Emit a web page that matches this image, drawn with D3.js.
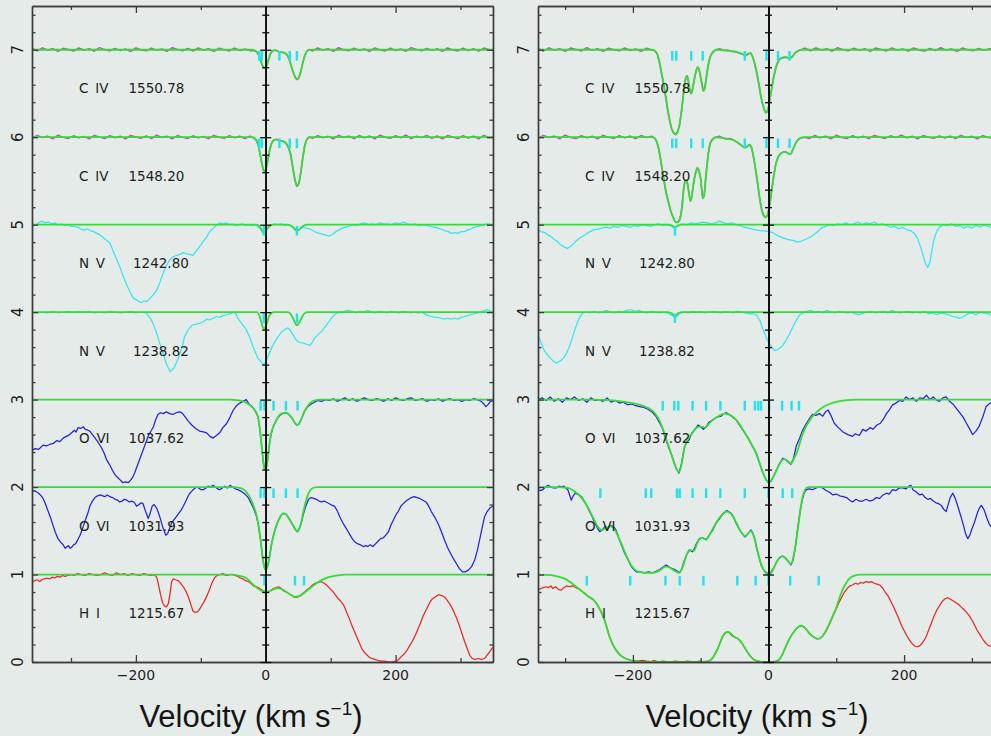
<!DOCTYPE html>
<html><head><meta charset="utf-8">
<script src="https://cdn.jsdelivr.net/npm/d3@7"></script>
<style>
html,body{margin:0;padding:0;background:#e4ebe8;}
svg{display:block;}
</style></head><body>
<svg id="chart" width="991" height="736"></svg>
<script>
// ---------------- DATA ----------------
const panelDomains = [[-360, 350], [-340, 340]];
const xTickLabels = [-200, 0, 200];
const yTickLabels = [0, 1, 2, 3, 4, 5, 6, 7];
const ionNames = ["H I", "O VI", "O VI", "N V", "N V", "C IV", "C IV"];
const wavelengths = ["1215.67", "1031.93", "1037.62", "1238.82", "1242.80", "1548.20", "1550.78"];

// ---- left panel ----
const L_CIV1550 = [[-360,1.018],[-352,0.986],[-344,1.022],[-336,0.995],[-328,1.012],[-320,0.981],[-312,1.016],[-304,1.003],[-296,0.984],[-288,1.020],[-280,0.994],[-272,1.013],[-264,0.983],[-256,1.024],[-248,1.001],[-240,0.988],[-232,1.015],[-224,0.990],[-216,1.010],[-208,0.980],[-200,1.021],[-192,0.997],[-184,0.987],[-176,1.019],[-168,0.993],[-160,1.008],[-152,0.982],[-144,1.023],[-136,1.002],[-128,0.989],[-120,1.014],[-112,0.985],[-104,1.020],[-96,0.994],[-88,1.011],[-80,0.981],[-72,1.017],[-64,1.000],[-56,0.986],[-48,1.019],[-40,0.992],[-32,1.009],[-24,0.988],
[-18,0.99],[-14,0.975],[-10,0.93],[-7,0.86],[-4,0.80],[-2,0.79],[1,0.81],[4,0.88],[7,0.95],[10,0.985],[14,0.995],[19,0.98],[24,0.97],[29,0.965],[33,0.94],[37,0.87],[41,0.77],[45,0.69],[48,0.66],[51,0.68],[54,0.75],[57,0.85],[60,0.93],[63,0.98],[67,1.004],
[72,0.985],[80,1.020],[88,0.995],[96,1.013],[104,0.982],[112,1.023],[120,1.000],[128,0.988],[136,1.017],[144,0.993],[152,1.010],[160,0.980],[168,1.021],[176,0.997],[184,0.986],[192,1.019],[200,0.991],[208,1.008],[216,0.983],[224,1.024],[232,1.002],[240,0.989],[248,1.016],[256,0.993],[264,1.012],[272,0.982],[280,1.020],[288,0.997],[296,0.986],[304,1.018],[312,0.990],[320,1.011],[328,0.984],[336,1.019],[344,1.000],[350,0.991]];
const L_CIV1550_fit = [[-360,1],[-22,1],[-18,0.995],[-14,0.975],[-10,0.93],[-7,0.86],[-4,0.805],[-2,0.79],[1,0.81],[4,0.88],[7,0.95],[10,0.985],[14,0.995],[19,0.982],[24,0.972],[29,0.965],[33,0.94],[37,0.87],[41,0.77],[45,0.69],[48,0.66],[51,0.68],[54,0.75],[57,0.85],[60,0.93],[63,0.98],[67,0.998],[72,1],[350,1]];

const L_CIV1548 = [[-360,0.988],[-352,1.019],[-344,0.996],[-336,1.011],[-328,0.981],[-320,1.023],[-312,0.998],[-304,0.986],[-296,1.016],[-288,0.992],[-280,1.009],[-272,0.982],[-264,1.021],[-256,1.001],[-248,0.985],[-240,1.018],[-232,0.994],[-224,1.012],[-216,0.980],[-208,1.020],[-200,1.003],[-192,0.987],[-184,1.015],[-176,0.983],[-168,1.024],[-160,0.996],[-152,1.010],[-144,0.981],[-136,1.019],[-128,0.998],[-120,0.986],[-112,1.016],[-104,0.992],[-96,1.008],[-88,0.983],[-80,1.021],[-72,1.000],[-64,0.987],[-56,1.018],[-48,0.994],[-40,1.011],[-32,0.984],[-24,1.013],
[-18,0.99],[-15,0.97],[-12,0.92],[-9,0.82],[-6,0.70],[-4,0.63],[-2,0.61],[0,0.63],[3,0.73],[6,0.85],[9,0.93],[12,0.965],[16,0.975],[21,0.965],[26,0.955],[30,0.94],[34,0.90],[38,0.81],[42,0.64],[45,0.51],[48,0.44],[51,0.47],[54,0.60],[57,0.76],[60,0.90],[63,0.97],[67,1.005],
[72,0.986],[80,1.018],[88,0.994],[96,1.010],[104,0.981],[112,1.022],[120,0.997],[128,1.011],[136,0.985],[144,1.019],[152,0.992],[160,1.013],[168,0.982],[176,1.023],[184,1.000],[192,0.987],[200,1.017],[208,0.993],[216,1.025],[224,0.983],[232,1.010],[240,0.995],[248,1.020],[256,0.986],[264,1.014],[272,0.981],[280,1.019],[288,1.002],[296,0.985],[304,1.018],[312,0.989],[320,1.012],[328,0.982],[336,1.020],[344,0.995],[350,1.008]];
const L_CIV1548_fit = [[-360,1],[-22,1],[-18,0.995],[-15,0.97],[-12,0.92],[-9,0.82],[-6,0.70],[-4,0.635],[-2,0.61],[0,0.63],[3,0.73],[6,0.85],[9,0.93],[12,0.965],[16,0.975],[21,0.965],[26,0.955],[30,0.94],[34,0.90],[38,0.81],[42,0.64],[45,0.51],[48,0.44],[51,0.47],[54,0.60],[57,0.76],[60,0.90],[63,0.97],[67,0.997],[72,1],[350,1]];

const L_NV1242 = [[-360,1.00],[-355,0.99],[-350,1.02],[-345,1.04],[-340,1.02],[-335,1.03],[-330,1.01],[-325,1.02],[-320,1.00],[-315,1.01],[-310,0.99],[-305,1.00],[-300,0.98],[-295,0.98],[-290,0.97],[-285,0.95],[-280,0.94],[-275,0.95],[-270,0.93],[-265,0.92],[-260,0.90],[-255,0.88],[-250,0.85],[-245,0.82],[-240,0.79],[-235,0.70],[-230,0.61],[-225,0.52],[-220,0.42],[-214,0.31],[-209,0.23],[-204,0.16],[-199,0.14],[-195,0.12],[-191,0.11],[-187,0.13],[-183,0.12],[-178,0.16],[-173,0.20],[-168,0.25],[-163,0.34],[-158,0.45],[-153,0.53],[-148,0.60],[-143,0.63],[-137,0.65],[-132,0.66],[-127,0.68],[-122,0.67],[-117,0.66],[-112,0.65],[-107,0.70],[-102,0.75],[-97,0.80],[-91,0.86],[-87,0.91],[-84,0.94],[-79,0.97],[-75,1.00],[-71,1.02],[-66,1.01],[-61,1.02],[-56,1.00],[-51,1.01],[-46,0.99],[-41,1.00],[-36,1.01],[-31,0.99],[-26,1.00],[-21,0.99],[-16,1.00],[-12,0.98],[-8,0.95],[-5,0.92],[-3,0.91],[-1,0.92],[2,0.95],[6,0.98],[10,1.00],[14,1.01],[19,1.00],[24,1.01],[29,0.99],[34,1.00],[39,0.99],[43,0.97],[48,0.94],[53,0.95],[58,0.97],[63,0.96],[68,0.95],[73,0.93],[78,0.91],[83,0.90],[88,0.89],[93,0.88],[98,0.87],[103,0.89],[108,0.92],[113,0.94],[118,0.96],[123,0.97],[128,0.98],[134,1.00],[140,0.99],[146,1.01],[152,1.02],[158,1.00],[164,1.01],[170,1.00],[176,1.02],[182,1.01],[188,1.01],[194,1.00],[200,1.02],[206,1.01],[212,1.03],[218,1.01],[224,1.00],[230,1.01],[236,0.99],[242,1.00],[248,0.99],[254,0.98],[260,0.97],[265,0.96],[270,0.95],[276,0.93],[281,0.92],[286,0.90],[291,0.91],[296,0.90],[301,0.92],[306,0.92],[311,0.94],[316,0.95],[321,0.97],[326,0.98],[331,0.99],[336,1.00],[342,1.01],[346,1.00],[350,1.00]];
const L_NV1242_fit = [[-360,1],[-14,1],[-10,0.985],[-7,0.95],[-5,0.92],[-3,0.905],[-1,0.915],[2,0.95],[5,0.98],[9,0.998],[13,1],[34,1],[38,0.99],[42,0.97],[45,0.945],[48,0.93],[51,0.94],[55,0.97],[59,0.99],[64,1],[350,1]];

const L_NV1238 = [[-360,1.00],[-352,0.99],[-344,1.00],[-336,0.99],[-328,1.01],[-320,0.99],[-312,1.00],[-304,1.01],[-296,1.00],[-288,1.01],[-280,1.00],[-272,1.01],[-264,0.99],[-256,1.00],[-248,0.99],[-240,1.01],[-232,1.00],[-224,0.99],[-216,1.00],[-208,1.01],[-200,0.99],[-192,1.00],[-184,0.99],[-176,0.91],[-172,0.84],[-168,0.76],[-164,0.66],[-160,0.57],[-156,0.48],[-153,0.41],[-150,0.36],[-147,0.32],[-144,0.34],[-140,0.38],[-136,0.45],[-132,0.53],[-128,0.63],[-125,0.72],[-120,0.79],[-114,0.85],[-108,0.86],[-102,0.87],[-96,0.89],[-91,0.92],[-86,0.91],[-81,0.93],[-76,0.95],[-71,0.94],[-66,0.96],[-60,0.97],[-55,0.98],[-50,1.00],[-46,0.98],[-43,0.93],[-38,0.88],[-34,0.84],[-30,0.80],[-25,0.72],[-20,0.61],[-16,0.54],[-12,0.47],[-9,0.45],[-6,0.42],[-4,0.40],[-1,0.42],[1,0.45],[5,0.52],[9,0.59],[14,0.66],[19,0.72],[24,0.77],[29,0.80],[34,0.82],[38,0.79],[42,0.74],[46,0.69],[50,0.66],[55,0.65],[60,0.64],[64,0.63],[68,0.62],[72,0.66],[75,0.70],[80,0.74],[86,0.78],[90,0.82],[93,0.85],[97,0.89],[101,0.93],[106,0.97],[111,0.995],[116,1.00],[121,1.01],[127,1.02],[133,1.01],[139,0.99],[145,1.01],[151,1.00],[157,1.02],[163,1.00],[169,0.99],[175,1.01],[181,1.00],[187,0.99],[193,1.01],[199,1.00],[205,0.99],[211,1.01],[217,1.00],[223,0.99],[229,1.00],[235,0.99],[240,1.00],[245,0.98],[250,0.96],[255,0.95],[260,0.94],[265,0.94],[270,0.93],[275,0.92],[280,0.93],[286,0.92],[291,0.93],[296,0.92],[301,0.94],[306,0.95],[311,0.96],[316,0.97],[321,0.98],[326,0.99],[332,1.00],[337,1.02],[342,1.03],[346,1.01],[350,1.00]];
const L_NV1238_fit = [[-360,1],[-14,1],[-11,0.98],[-8,0.92],[-5,0.84],[-3,0.81],[-1,0.82],[2,0.88],[5,0.95],[9,0.99],[13,1],[34,1],[38,0.98],[42,0.93],[45,0.88],[48,0.85],[51,0.87],[55,0.93],[59,0.98],[64,1],[350,1]];

const L_OVI1037 = [[-360,0.42],[-355,0.44],[-350,0.43],[-343,0.48],[-338,0.47],[-332,0.49],[-327,0.50],[-322,0.53],[-317,0.52],[-312,0.56],[-307,0.58],[-302,0.60],[-299,0.62],[-295,0.65],[-292,0.63],[-289,0.68],[-285,0.67],[-281,0.69],[-278,0.66],[-274,0.65],[-271,0.64],[-266,0.59],[-262,0.55],[-258,0.51],[-253,0.45],[-249,0.39],[-245,0.31],[-240,0.25],[-236,0.19],[-232,0.14],[-228,0.11],[-224,0.08],[-220,0.05],[-216,0.06],[-212,0.05],[-209,0.07],[-205,0.11],[-202,0.16],[-199,0.22],[-194,0.32],[-189,0.42],[-184,0.52],[-180,0.60],[-176,0.65],[-173,0.69],[-170,0.76],[-166,0.83],[-162,0.85],[-158,0.84],[-153,0.86],[-148,0.84],[-143,0.83],[-138,0.85],[-132,0.86],[-128,0.84],[-125,0.81],[-120,0.76],[-114,0.71],[-108,0.67],[-102,0.64],[-96,0.63],[-91,0.62],[-86,0.58],[-81,0.56],[-76,0.59],[-71,0.62],[-66,0.68],[-60,0.73],[-55,0.80],[-50,0.88],[-45,0.93],[-40,0.96],[-35,0.98],[-30,1.00],[-25,0.94],[-20,0.91],[-17,0.88],[-12,0.81],[-9,0.66],[-6,0.45],[-4,0.30],[-2,0.21],[0,0.20],[2,0.26],[5,0.45],[8,0.60],[11,0.68],[14,0.73],[18,0.79],[22,0.82],[26,0.84],[30,0.85],[34,0.84],[38,0.81],[42,0.77],[45,0.73],[48,0.71],[51,0.72],[55,0.78],[60,0.87],[65,0.92],[70,0.95],[75,0.97],[80,0.99],[86,0.98],[92,1.00],[98,0.99],[104,1.01],[110,0.98],[116,1.00],[122,1.02],[128,0.99],[134,1.01],[140,0.98],[146,1.00],[152,1.02],[158,1.00],[164,0.99],[170,1.01],[176,1.00],[182,0.98],[188,1.01],[194,0.99],[200,1.02],[206,1.00],[212,0.99],[218,1.01],[224,1.02],[230,0.99],[236,1.00],[242,1.01],[248,0.98],[254,1.00],[260,0.99],[266,1.01],[272,0.98],[278,1.00],[284,1.01],[290,0.99],[296,1.00],[302,0.98],[308,1.00],[314,0.99],[320,1.01],[326,1.00],[332,0.98],[336,0.95],[339,0.92],[342,0.94],[346,0.98],[350,0.99]];
const L_OVI1037_fit = [[-360,1],[-55,1],[-45,0.995],[-35,0.98],[-25,0.94],[-17,0.88],[-12,0.80],[-9,0.66],[-6,0.45],[-4,0.30],[-2,0.21],[0,0.20],[2,0.26],[5,0.45],[8,0.60],[11,0.68],[14,0.73],[18,0.79],[22,0.83],[26,0.845],[30,0.85],[34,0.84],[38,0.81],[42,0.77],[45,0.73],[48,0.71],[51,0.72],[55,0.78],[60,0.87],[65,0.93],[70,0.97],[76,0.99],[82,1],[350,1]];

const L_OVI1031 = [[-360,0.94],[-357,0.96],[-354,0.95],[-350,0.93],[-347,0.91],[-343,0.87],[-340,0.82],[-336,0.74],[-332,0.66],[-328,0.57],[-324,0.48],[-320,0.41],[-316,0.37],[-312,0.34],[-309,0.30],[-306,0.32],[-304,0.33],[-301,0.30],[-299,0.31],[-296,0.34],[-293,0.35],[-290,0.39],[-286,0.45],[-282,0.53],[-278,0.62],[-274,0.70],[-271,0.78],[-267,0.84],[-263,0.88],[-259,0.90],[-255,0.91],[-251,0.90],[-248,0.89],[-244,0.91],[-240,0.89],[-236,0.88],[-232,0.86],[-228,0.85],[-225,0.83],[-221,0.84],[-218,0.86],[-214,0.85],[-210,0.83],[-206,0.84],[-202,0.82],[-199,0.78],[-195,0.80],[-192,0.82],[-189,0.81],[-185,0.72],[-181,0.64],[-178,0.70],[-175,0.78],[-172,0.80],[-168,0.76],[-165,0.70],[-162,0.63],[-159,0.55],[-156,0.49],[-154,0.45],[-151,0.47],[-148,0.53],[-145,0.59],[-142,0.62],[-138,0.66],[-134,0.70],[-130,0.74],[-127,0.78],[-123,0.84],[-120,0.89],[-117,0.93],[-113,0.96],[-110,0.98],[-107,1.00],[-103,0.99],[-100,0.97],[-96,0.97],[-92,0.99],[-89,1.01],[-85,1.00],[-81,1.02],[-78,1.00],[-74,0.98],[-71,0.97],[-67,0.99],[-63,1.01],[-59,0.99],[-55,1.02],[-51,1.00],[-47,0.98],[-43,0.97],[-40,0.96],[-36,0.94],[-32,0.92],[-27,0.88],[-23,0.82],[-19,0.76],[-14,0.66],[-11,0.55],[-8,0.40],[-6,0.27],[-4,0.15],[-2,0.08],[0,0.05],[3,0.10],[6,0.21],[9,0.35],[12,0.45],[15,0.53],[19,0.61],[23,0.67],[27,0.70],[31,0.69],[35,0.65],[39,0.60],[43,0.55],[46,0.51],[49,0.49],[52,0.53],[55,0.60],[58,0.69],[62,0.79],[66,0.86],[70,0.88],[74,0.87],[78,0.86],[82,0.84],[86,0.83],[90,0.84],[95,0.82],[100,0.80],[106,0.78],[110,0.73],[114,0.66],[118,0.60],[122,0.55],[126,0.50],[130,0.45],[134,0.40],[138,0.37],[142,0.35],[146,0.34],[150,0.32],[154,0.33],[157,0.32],[161,0.34],[165,0.32],[169,0.35],[173,0.38],[177,0.41],[181,0.42],[185,0.45],[189,0.49],[193,0.57],[197,0.63],[201,0.69],[204,0.72],[208,0.78],[212,0.81],[216,0.84],[220,0.86],[224,0.88],[229,0.89],[233,0.88],[237,0.87],[242,0.85],[247,0.83],[251,0.78],[255,0.72],[260,0.66],[265,0.59],[270,0.50],[275,0.40],[280,0.31],[286,0.22],[290,0.17],[294,0.12],[298,0.07],[303,0.03],[307,0.03],[312,0.05],[317,0.09],[322,0.17],[326,0.28],[330,0.42],[334,0.56],[337,0.66],[341,0.72],[345,0.76],[350,0.78]];
const L_OVI1031_fit = [[-360,1],[-50,1],[-40,0.99],[-32,0.96],[-25,0.89],[-19,0.79],[-14,0.67],[-11,0.55],[-8,0.40],[-6,0.27],[-4,0.15],[-2,0.08],[0,0.05],[3,0.10],[6,0.21],[9,0.35],[12,0.45],[15,0.53],[19,0.61],[23,0.67],[27,0.70],[31,0.69],[35,0.65],[39,0.60],[43,0.55],[46,0.51],[49,0.49],[52,0.53],[55,0.61],[58,0.72],[62,0.84],[66,0.93],[70,0.975],[75,0.995],[80,1],[350,1]];

const L_HI = [[-360,0.91],[-356,0.93],[-352,0.94],[-348,0.92],[-345,0.94],[-341,0.95],[-337,0.96],[-333,0.95],[-329,0.97],[-325,0.96],[-321,0.98],[-317,0.97],[-313,0.99],[-309,0.98],[-305,0.99],[-300,1.00],[-295,0.99],[-290,1.01],[-284,1.00],[-278,0.99],[-272,1.01],[-266,1.00],[-260,0.99],[-254,1.00],[-248,1.02],[-242,1.00],[-236,0.99],[-230,1.02],[-224,1.00],[-218,1.01],[-212,0.99],[-206,1.01],[-200,1.00],[-194,0.99],[-188,1.01],[-182,1.00],[-177,0.99],[-172,1.00],[-168,0.97],[-165,0.88],[-162,0.77],[-159,0.68],[-156,0.64],[-153,0.63],[-150,0.67],[-147,0.80],[-145,0.92],[-142,0.95],[-139,0.94],[-135,0.93],[-131,0.90],[-127,0.86],[-123,0.81],[-119,0.74],[-115,0.65],[-112,0.58],[-109,0.57],[-106,0.57],[-103,0.59],[-99,0.64],[-95,0.69],[-91,0.75],[-87,0.82],[-83,0.90],[-79,0.96],[-75,0.99],[-71,1.00],[-66,1.01],[-61,0.99],[-56,1.00],[-51,1.00],[-47,0.99],[-43,0.98],[-39,0.96],[-35,0.95],[-31,0.93],[-27,0.92],[-23,0.90],[-19,0.87],[-15,0.86],[-11,0.85],[-7,0.83],[-3,0.81],[0,0.80],[4,0.80],[8,0.82],[12,0.84],[16,0.85],[20,0.86],[24,0.84],[28,0.81],[32,0.80],[36,0.78],[40,0.76],[44,0.74],[48,0.74],[52,0.75],[56,0.78],[60,0.80],[64,0.83],[68,0.85],[72,0.88],[76,0.90],[80,0.91],[85,0.92],[90,0.90],[95,0.87],[100,0.83],[104,0.80],[108,0.76],[112,0.72],[116,0.69],[120,0.65],[124,0.58],[128,0.51],[132,0.43],[136,0.36],[140,0.29],[144,0.22],[148,0.15],[152,0.11],[156,0.08],[160,0.05],[164,0.04],[168,0.03],[172,0.02],[177,0.01],[182,0.01],[187,0.005],[192,0.0],[197,0.005],[202,0.01],[206,0.04],[210,0.07],[214,0.10],[218,0.14],[222,0.19],[226,0.24],[230,0.30],[234,0.37],[238,0.44],[242,0.52],[246,0.58],[250,0.64],[254,0.70],[258,0.73],[262,0.75],[266,0.77],[270,0.76],[274,0.75],[278,0.72],[282,0.68],[286,0.63],[290,0.57],[294,0.50],[298,0.42],[302,0.33],[306,0.24],[310,0.16],[314,0.08],[318,0.04],[322,0.03],[327,0.04],[332,0.03],[337,0.04],[341,0.08],[345,0.12],[350,0.17]];
const L_HI_fit = [[-360,1],[-52,1],[-40,0.985],[-30,0.96],[-20,0.89],[-10,0.83],[0,0.80],[6,0.81],[12,0.83],[18,0.845],[24,0.835],[30,0.81],[37,0.775],[45,0.745],[52,0.755],[60,0.795],[70,0.855],[80,0.91],[90,0.95],[100,0.975],[110,0.99],[122,1],[350,1]];

const L_CIV_ticks = [-10, -6, 21, 37, 48];
const L_NV_ticks = [-3, 48];
const L_OVI_ticks = [-8, -2, 12, 31, 49];
const L_HI_ticks = [-2, 45, 59];

// ---- right panel ----
const R_CIV1550 = [[-340,1.015],[-332,0.985],[-324,1.022],[-316,0.994],[-308,1.013],[-300,0.981],[-292,1.019],[-284,1.002],[-276,0.986],[-268,1.024],[-260,0.993],[-252,1.011],[-244,0.982],[-236,1.017],[-228,1.000],[-220,0.988],[-212,1.020],[-204,0.991],[-196,1.008],[-188,0.983],[-180,1.016],[-172,0.997],
[-168,0.99],[-164,0.95],[-161,0.86],[-158,0.74],[-155,0.62],[-152,0.48],[-149,0.33],[-146,0.20],[-143,0.10],[-140,0.05],[-137,0.03],[-134,0.06],[-131,0.15],[-128,0.32],[-125,0.52],[-122,0.68],[-120,0.70],[-118,0.63],[-116,0.54],[-114,0.50],[-112,0.55],[-109,0.68],[-106,0.78],[-104,0.80],[-102,0.76],[-99,0.64],[-96,0.53],[-94,0.56],[-91,0.72],[-88,0.86],[-85,0.94],[-81,0.98],[-77,1.00],[-72,1.012],[-66,0.99],[-60,0.995],[-54,0.98],[-48,0.975],[-43,0.96],[-38,0.95],[-35,0.935],[-31,0.945],[-27,0.965],[-24,0.93],[-21,0.86],[-18,0.76],[-15,0.64],[-12,0.50],[-9,0.39],[-6,0.31],[-4,0.28],[-2,0.29],[0,0.34],[2,0.43],[5,0.57],[8,0.70],[11,0.80],[14,0.86],[17,0.895],[21,0.91],[25,0.915],[28,0.91],[31,0.90],[35,0.92],[39,0.96],[43,0.985],[48,1.0],
[54,1.018],[62,0.988],[70,1.021],[78,0.995],[86,1.012],[94,0.983],[102,1.023],[110,1.001],[118,0.987],[126,1.017],[134,0.993],[142,1.012],[150,0.981],[158,1.019],[166,1.003],[174,0.986],[182,1.021],[190,0.994],[198,1.010],[206,0.984],[214,1.020],[222,0.998],[230,0.985],[238,1.016],[246,0.991],[254,1.023],[262,0.996],[270,1.009],[278,0.982],[286,1.019],[294,1.000],[302,0.987],[310,1.015],[318,0.993],[326,1.012],[334,0.984],[340,1.008]];
const R_CIV1550_fit = [[-340,1],[-172,1],[-168,0.99],[-164,0.95],[-161,0.86],[-158,0.74],[-155,0.62],[-152,0.48],[-149,0.33],[-146,0.20],[-143,0.10],[-140,0.05],[-137,0.03],[-134,0.06],[-131,0.15],[-128,0.32],[-125,0.52],[-122,0.68],[-120,0.70],[-118,0.63],[-116,0.54],[-114,0.50],[-112,0.55],[-109,0.68],[-106,0.78],[-104,0.80],[-102,0.76],[-99,0.64],[-96,0.53],[-94,0.56],[-91,0.72],[-88,0.86],[-85,0.94],[-81,0.98],[-77,1.0],[-70,1.0],[-60,0.99],[-50,0.98],[-43,0.965],[-38,0.95],[-35,0.94],[-31,0.945],[-27,0.963],[-24,0.93],[-21,0.86],[-18,0.76],[-15,0.64],[-12,0.50],[-9,0.39],[-6,0.31],[-4,0.28],[-2,0.29],[0,0.34],[2,0.43],[5,0.57],[8,0.70],[11,0.80],[14,0.86],[17,0.895],[21,0.91],[25,0.915],[28,0.91],[31,0.90],[35,0.92],[39,0.96],[43,0.985],[48,0.998],[54,1],[340,1]];

const R_CIV1548 = [[-340,0.987],[-332,1.020],[-324,0.997],[-316,1.012],[-308,0.982],[-300,1.024],[-292,0.996],[-284,0.985],[-276,1.017],[-268,0.993],[-260,1.011],[-252,0.981],[-244,1.021],[-236,1.001],[-228,0.986],[-220,1.018],[-212,0.992],[-204,1.013],[-196,0.983],[-188,1.019],[-180,0.997],[-172,1.010],
[-168,0.99],[-165,0.95],[-162,0.87],[-159,0.74],[-156,0.59],[-153,0.45],[-150,0.33],[-147,0.24],[-144,0.15],[-141,0.09],[-138,0.04],[-135,0.025],[-132,0.04],[-129,0.12],[-127,0.25],[-125,0.42],[-123,0.50],[-121,0.51],[-119,0.45],[-117,0.34],[-115,0.27],[-113,0.33],[-111,0.45],[-108,0.58],[-105,0.65],[-103,0.63],[-100,0.52],[-97,0.30],[-95,0.33],[-92,0.58],[-89,0.80],[-86,0.93],[-82,0.98],[-78,1.0],[-72,1.01],[-64,0.98],[-56,0.985],[-50,0.96],[-44,0.93],[-39,0.90],[-35,0.88],[-31,0.895],[-28,0.915],[-25,0.88],[-22,0.77],[-19,0.63],[-16,0.47],[-13,0.30],[-10,0.17],[-7,0.10],[-4,0.085],[-1,0.12],[2,0.24],[5,0.41],[8,0.57],[11,0.70],[14,0.77],[18,0.815],[22,0.83],[26,0.83],[30,0.81],[33,0.81],[36,0.86],[40,0.93],[44,0.975],[49,0.995],[54,1.0],
[60,0.985],[68,1.019],[76,0.994],[84,1.011],[92,0.982],[100,1.022],[108,0.997],[116,0.986],[124,1.017],[132,0.992],[140,1.010],[148,0.983],[156,1.020],[164,1.002],[172,0.986],[180,1.016],[188,0.995],[196,1.024],[204,0.993],[212,1.011],[220,0.981],[228,1.019],[236,1.000],[244,0.987],[252,1.015],[260,0.991],[268,1.012],[276,0.984],[284,1.021],[292,0.995],[300,1.010],[308,0.982],[316,1.018],[324,0.997],[332,0.986],[340,1.014]];
const R_CIV1548_fit = [[-340,1],[-172,1],[-168,0.99],[-165,0.95],[-162,0.87],[-159,0.74],[-156,0.59],[-153,0.45],[-150,0.33],[-147,0.24],[-144,0.15],[-141,0.09],[-138,0.04],[-135,0.025],[-132,0.04],[-129,0.12],[-127,0.25],[-125,0.42],[-123,0.50],[-121,0.51],[-119,0.45],[-117,0.34],[-115,0.27],[-113,0.33],[-111,0.45],[-108,0.58],[-105,0.65],[-103,0.63],[-100,0.52],[-97,0.30],[-95,0.33],[-92,0.58],[-89,0.80],[-86,0.93],[-82,0.98],[-78,1.0],[-72,0.995],[-64,0.985],[-56,0.975],[-50,0.96],[-44,0.93],[-39,0.90],[-35,0.88],[-31,0.895],[-28,0.915],[-25,0.88],[-22,0.77],[-19,0.63],[-16,0.47],[-13,0.30],[-10,0.17],[-7,0.10],[-4,0.085],[-1,0.12],[2,0.24],[5,0.41],[8,0.57],[11,0.70],[14,0.77],[18,0.815],[22,0.83],[26,0.83],[30,0.81],[33,0.81],[36,0.86],[40,0.93],[44,0.975],[49,0.995],[54,1],[340,1]];

const R_NV1242 = [[-340,0.94],[-335,0.92],[-330,0.91],[-325,0.88],[-320,0.86],[-316,0.83],[-312,0.81],[-308,0.78],[-304,0.76],[-300,0.74],[-296,0.73],[-292,0.75],[-288,0.78],[-283,0.82],[-278,0.85],[-273,0.87],[-268,0.90],[-263,0.92],[-258,0.94],[-252,0.95],[-246,0.96],[-240,0.97],[-234,0.96],[-228,0.98],[-222,0.97],[-216,0.99],[-210,0.98],[-204,0.97],[-198,0.99],[-192,0.98],[-186,1.0],[-180,0.99],[-174,0.98],[-168,1.0],[-162,1.01],[-156,0.99],[-150,1.0],[-145,0.99],[-141,0.97],[-138,0.955],[-135,0.975],[-131,1.0],[-126,1.01],[-120,1.0],[-114,1.02],[-108,1.01],[-102,1.02],[-96,1.03],[-90,1.02],[-84,1.01],[-78,1.02],[-72,1.04],[-66,1.02],[-60,1.01],[-54,1.02],[-48,1.0],[-42,0.99],[-36,0.97],[-30,0.96],[-24,0.95],[-18,0.94],[-12,0.93],[-6,0.93],[0,0.92],[6,0.91],[12,0.88],[18,0.86],[24,0.84],[30,0.83],[36,0.82],[42,0.80],[48,0.81],[54,0.83],[60,0.85],[66,0.88],[72,0.92],[78,0.96],[84,0.98],[90,1.0],[96,0.99],[102,1.01],[108,1.0],[114,1.02],[120,1.0],[126,1.01],[132,1.03],[138,1.0],[144,1.02],[150,1.01],[156,1.03],[162,1.0],[168,1.01],[174,0.99],[180,0.97],[186,0.98],[192,0.95],[198,0.97],[204,0.94],[210,0.93],[215,0.90],[220,0.84],[225,0.73],[229,0.62],[232,0.55],[235,0.51],[238,0.57],[241,0.70],[244,0.83],[248,0.92],[252,0.97],[258,1.0],[264,0.99],[270,1.01],[276,0.98],[282,0.99],[288,0.96],[294,0.98],[300,0.96],[306,0.99],[312,0.97],[318,1.0],[324,0.98],[330,0.96],[336,0.98],[340,0.99]];
const R_NV1242_fit = [[-340,1],[-148,1],[-142,0.99],[-138,0.975],[-134,0.99],[-128,1],[340,1]];

const R_NV1238 = [[-340,0.74],[-336,0.66],[-332,0.58],[-328,0.53],[-324,0.49],[-320,0.46],[-316,0.43],[-313,0.42],[-310,0.43],[-306,0.45],[-302,0.48],[-298,0.53],[-294,0.60],[-290,0.69],[-286,0.79],[-282,0.88],[-278,0.95],[-274,0.99],[-269,1.0],[-263,0.99],[-257,1.01],[-251,0.99],[-245,1.0],[-239,1.02],[-233,1.0],[-227,0.99],[-221,1.01],[-215,1.0],[-209,1.02],[-203,1.03],[-197,1.01],[-191,1.02],[-185,1.0],[-179,0.99],[-173,1.01],[-167,1.0],[-161,0.99],[-155,1.0],[-150,0.99],[-146,0.98],[-142,0.96],[-138,0.935],[-134,0.96],[-130,0.99],[-124,1.0],[-118,0.99],[-112,1.01],[-106,1.0],[-100,1.01],[-94,0.99],[-88,1.0],[-82,1.01],[-76,1.0],[-70,0.99],[-64,1.01],[-58,1.0],[-52,0.99],[-46,1.01],[-40,1.0],[-34,0.99],[-28,0.98],[-23,0.98],[-18,0.97],[-13,0.91],[-8,0.80],[-4,0.72],[0,0.66],[4,0.61],[9,0.56],[13,0.57],[17,0.59],[21,0.62],[26,0.68],[31,0.75],[36,0.83],[41,0.91],[46,0.97],[51,0.99],[56,1.01],[62,1.02],[68,1.0],[74,1.01],[80,0.99],[86,1.02],[92,1.0],[98,0.99],[104,1.01],[110,1.0],[116,0.99],[122,1.0],[128,0.98],[134,0.97],[140,0.99],[146,1.0],[152,1.01],[158,0.99],[164,1.0],[170,1.01],[176,0.99],[182,1.02],[188,1.0],[194,0.99],[200,1.0],[206,1.01],[212,0.99],[218,1.0],[224,0.99],[230,1.01],[236,0.98],[242,0.99],[248,0.97],[254,0.99],[260,0.98],[266,0.97],[272,0.95],[278,0.94],[282,0.93],[288,0.95],[294,0.98],[300,0.99],[306,0.97],[312,1.0],[318,0.99],[324,0.98],[330,0.96],[336,0.94],[340,0.95]];
const R_NV1238_fit = [[-340,1],[-150,1],[-143,0.99],[-138,0.95],[-133,0.99],[-126,1],[340,1]];

const R_OVI1037 = [[-340,1.0],[-334,1.02],[-328,0.99],[-322,1.03],[-316,0.98],[-310,1.01],[-304,0.97],[-298,1.02],[-292,1.0],[-286,1.03],[-280,0.99],[-274,1.01],[-268,0.97],[-262,1.02],[-256,0.99],[-250,1.0],[-244,0.98],[-238,1.02],[-232,0.97],[-226,0.99],[-220,0.96],[-214,0.97],[-208,0.94],[-202,0.95],[-196,0.93],[-190,0.92],[-184,0.91],[-178,0.89],[-172,0.86],[-166,0.81],[-161,0.74],[-156,0.66],[-152,0.56],[-148,0.47],[-144,0.39],[-140,0.30],[-136,0.21],[-132,0.16],[-128,0.28],[-124,0.46],[-120,0.52],[-117,0.54],[-113,0.62],[-108,0.66],[-104,0.71],[-100,0.69],[-96,0.66],[-92,0.69],[-88,0.74],[-82,0.77],[-76,0.80],[-70,0.81],[-66,0.84],[-62,0.85],[-58,0.83],[-54,0.81],[-48,0.77],[-42,0.70],[-36,0.63],[-30,0.56],[-24,0.47],[-18,0.39],[-13,0.27],[-8,0.16],[-4,0.09],[0,0.05],[4,0.07],[8,0.13],[11,0.18],[16,0.26],[21,0.33],[26,0.31],[33,0.26],[37,0.33],[41,0.47],[46,0.56],[51,0.66],[56,0.73],[61,0.79],[65,0.83],[70,0.82],[75,0.84],[80,0.81],[84,0.86],[88,0.88],[92,0.82],[97,0.73],[103,0.68],[110,0.63],[117,0.60],[124,0.58],[128,0.61],[134,0.59],[139,0.66],[144,0.64],[150,0.68],[154,0.66],[160,0.71],[165,0.73],[169,0.77],[174,0.84],[178,0.88],[183,0.94],[188,0.96],[193,0.99],[198,0.98],[203,1.03],[208,1.0],[213,1.02],[218,0.98],[223,1.02],[228,1.01],[233,1.05],[238,1.0],[243,1.03],[247,1.0],[252,0.98],[257,1.02],[262,1.03],[267,0.98],[272,0.95],[277,0.90],[282,0.85],[287,0.80],[292,0.73],[297,0.66],[301,0.60],[306,0.64],[311,0.70],[316,0.80],[321,0.92],[327,0.96],[333,0.98],[340,0.99]];
const R_OVI1037_fit = [[-340,1],[-260,1],[-230,0.99],[-210,0.97],[-190,0.94],[-171,0.87],[-162,0.78],[-156,0.67],[-150,0.53],[-144,0.39],[-138,0.25],[-132,0.17],[-128,0.27],[-124,0.45],[-120,0.53],[-114,0.60],[-106,0.68],[-100,0.69],[-94,0.68],[-86,0.74],[-76,0.80],[-64,0.84],[-56,0.82],[-48,0.77],[-38,0.66],[-28,0.53],[-18,0.38],[-10,0.20],[-4,0.09],[0,0.05],[6,0.10],[12,0.20],[18,0.29],[23,0.32],[28,0.30],[33,0.27],[38,0.33],[43,0.42],[50,0.60],[56,0.70],[64,0.80],[73,0.87],[82,0.92],[90,0.95],[100,0.975],[115,0.995],[130,1],[340,1]];

const R_OVI1031 = [[-340,0.97],[-336,0.96],[-333,0.97],[-329,1.0],[-325,1.02],[-321,1.0],[-317,0.99],[-313,0.99],[-309,1.01],[-305,1.0],[-302,1.01],[-299,0.99],[-296,0.97],[-293,0.90],[-291,0.85],[-288,0.90],[-285,0.93],[-282,0.92],[-279,0.91],[-275,0.88],[-271,0.83],[-267,0.77],[-264,0.72],[-260,0.66],[-257,0.60],[-253,0.54],[-249,0.49],[-245,0.51],[-241,0.55],[-237,0.53],[-233,0.56],[-229,0.55],[-225,0.51],[-220,0.40],[-216,0.32],[-212,0.24],[-207,0.17],[-203,0.10],[-199,0.06],[-195,0.03],[-189,0.03],[-183,0.02],[-177,0.03],[-171,0.02],[-165,0.04],[-160,0.06],[-155,0.09],[-151,0.11],[-147,0.09],[-143,0.07],[-139,0.06],[-135,0.04],[-131,0.02],[-128,0.06],[-125,0.14],[-121,0.22],[-117,0.28],[-114,0.27],[-112,0.26],[-109,0.30],[-106,0.36],[-102,0.41],[-98,0.42],[-95,0.41],[-92,0.40],[-88,0.44],[-85,0.48],[-82,0.51],[-78,0.58],[-75,0.61],[-72,0.64],[-68,0.69],[-65,0.71],[-62,0.73],[-59,0.72],[-55,0.70],[-51,0.65],[-48,0.59],[-44,0.53],[-40,0.48],[-37,0.45],[-35,0.43],[-32,0.45],[-29,0.48],[-26,0.51],[-23,0.47],[-20,0.40],[-18,0.32],[-14,0.20],[-11,0.11],[-7,0.05],[-3,0.02],[0,0.01],[4,0.03],[8,0.08],[11,0.13],[15,0.18],[18,0.20],[21,0.21],[25,0.19],[29,0.15],[33,0.11],[36,0.16],[39,0.28],[41,0.40],[44,0.58],[47,0.74],[50,0.86],[53,0.94],[56,0.97],[60,0.98],[65,0.97],[70,0.99],[75,1.0],[80,0.99],[85,0.96],[90,0.94],[95,0.91],[100,0.92],[105,0.90],[110,0.89],[115,0.88],[120,0.85],[124,0.83],[129,0.86],[134,0.84],[139,0.84],[144,0.86],[149,0.84],[154,0.85],[159,0.88],[164,0.87],[169,0.91],[174,0.93],[178,0.92],[183,0.97],[188,0.96],[193,0.99],[198,0.99],[203,0.98],[207,1.01],[210,1.02],[213,0.97],[217,0.95],[220,0.93],[223,0.91],[227,0.92],[231,0.88],[235,0.86],[239,0.87],[243,0.84],[247,0.82],[251,0.81],[255,0.79],[258,0.75],[262,0.72],[265,0.80],[268,0.88],[272,0.93],[276,0.86],[280,0.76],[284,0.66],[288,0.55],[291,0.46],[294,0.41],[297,0.45],[300,0.52],[304,0.60],[308,0.70],[311,0.76],[314,0.79],[318,0.74],[322,0.65],[326,0.57],[330,0.53],[334,0.50],[340,0.48]];
const R_OVI1031_fit = [[-340,1],[-310,1],[-296,0.99],[-286,0.95],[-276,0.88],[-268,0.79],[-260,0.67],[-252,0.55],[-246,0.51],[-240,0.53],[-233,0.55],[-226,0.50],[-218,0.37],[-210,0.22],[-202,0.10],[-194,0.04],[-180,0.02],[-170,0.02],[-160,0.05],[-152,0.09],[-146,0.08],[-140,0.05],[-132,0.02],[-126,0.10],[-120,0.24],[-114,0.28],[-110,0.27],[-104,0.38],[-98,0.42],[-92,0.40],[-86,0.47],[-78,0.58],[-70,0.67],[-62,0.72],[-56,0.70],[-48,0.60],[-40,0.48],[-35,0.44],[-30,0.47],[-26,0.50],[-21,0.42],[-16,0.26],[-10,0.10],[-4,0.02],[0,0.0],[5,0.03],[11,0.13],[16,0.19],[21,0.21],[27,0.17],[33,0.12],[38,0.25],[42,0.45],[46,0.68],[50,0.88],[54,0.97],[58,1],[340,1]];

const R_HI = [[-340,0.82],[-336,0.84],[-332,0.85],[-328,0.86],[-325,0.85],[-321,0.87],[-318,0.84],[-314,0.86],[-310,0.83],[-306,0.82],[-302,0.85],[-298,0.87],[-294,0.86],[-290,0.87],[-286,0.86],[-282,0.84],[-278,0.83],[-274,0.80],[-270,0.78],[-266,0.75],[-262,0.73],[-258,0.71],[-254,0.67],[-250,0.62],[-246,0.56],[-242,0.48],[-238,0.39],[-235,0.30],[-231,0.22],[-227,0.16],[-223,0.12],[-219,0.08],[-215,0.06],[-211,0.04],[-207,0.03],[-203,0.02],[-198,0.015],[-192,0.01],[-186,0.02],[-180,0.01],[-174,0.005],[-168,0.015],[-162,0.0],[-156,0.01],[-150,0.005],[-144,0.0],[-138,0.01],[-132,0.005],[-126,0.0],[-120,0.01],[-114,0.005],[-108,0.0],[-102,0.01],[-96,0.005],[-90,0.01],[-86,0.02],[-82,0.05],[-79,0.09],[-75,0.15],[-71,0.23],[-67,0.30],[-64,0.335],[-60,0.345],[-57,0.33],[-54,0.30],[-50,0.285],[-46,0.27],[-42,0.245],[-38,0.20],[-34,0.15],[-30,0.10],[-26,0.06],[-22,0.03],[-18,0.015],[-12,0.005],[-6,0.0],[0,0.0],[6,0.005],[12,0.01],[16,0.03],[20,0.08],[24,0.15],[28,0.22],[32,0.28],[36,0.33],[40,0.37],[44,0.40],[48,0.415],[52,0.40],[56,0.37],[60,0.33],[64,0.30],[68,0.28],[72,0.265],[76,0.27],[80,0.30],[84,0.34],[88,0.40],[92,0.47],[96,0.54],[100,0.61],[104,0.68],[108,0.74],[112,0.80],[116,0.84],[120,0.87],[124,0.88],[128,0.90],[132,0.89],[136,0.91],[140,0.90],[144,0.92],[148,0.91],[152,0.92],[156,0.90],[160,0.89],[164,0.88],[168,0.85],[172,0.80],[176,0.76],[180,0.70],[184,0.64],[188,0.57],[192,0.50],[196,0.42],[200,0.36],[204,0.30],[208,0.25],[212,0.21],[216,0.18],[220,0.175],[224,0.19],[228,0.23],[232,0.28],[236,0.36],[240,0.44],[244,0.52],[248,0.59],[252,0.64],[256,0.69],[260,0.72],[264,0.735],[268,0.72],[272,0.70],[276,0.68],[280,0.66],[284,0.63],[288,0.60],[292,0.57],[296,0.53],[300,0.48],[304,0.42],[308,0.36],[312,0.31],[316,0.26],[320,0.22],[324,0.19],[328,0.18],[334,0.17],[340,0.16]];
const R_HI_fit = [[-340,1],[-325,0.995],[-312,0.98],[-300,0.95],[-290,0.90],[-282,0.85],[-274,0.80],[-266,0.75],[-258,0.71],[-250,0.62],[-242,0.48],[-235,0.30],[-227,0.16],[-219,0.08],[-211,0.04],[-203,0.02],[-195,0.008],[-185,0],[-92,0],[-86,0.02],[-82,0.05],[-79,0.09],[-75,0.15],[-71,0.23],[-67,0.30],[-63,0.335],[-60,0.345],[-56,0.33],[-52,0.295],[-46,0.27],[-42,0.245],[-38,0.20],[-34,0.15],[-30,0.10],[-26,0.06],[-22,0.03],[-17,0.01],[-10,0],[10,0],[14,0.015],[17,0.04],[20,0.08],[24,0.15],[28,0.22],[32,0.28],[36,0.33],[40,0.37],[44,0.40],[48,0.415],[52,0.40],[56,0.37],[60,0.33],[64,0.30],[68,0.28],[72,0.265],[76,0.27],[80,0.30],[84,0.35],[88,0.41],[92,0.48],[96,0.55],[100,0.62],[105,0.74],[110,0.84],[115,0.91],[120,0.96],[126,0.985],[134,1],[340,1]];

const R_CIV_ticks = [-142, -136, -114, -97, -35, -3, 14, 31];
const R_NV_ticks = [-138];
const R_OVI1037_ticks = [-156, -139, -133, -112, -92, -71, -35, -20, -15, -11, 1, 20, 34, 45];
const R_OVI1031_ticks = [-248, -181, -173, -135, -131, -112, -92, -71, -35, 0, 21, 35];
const R_HI_ticks = [-268, -204, -152, -131, -96, -46, -19, 0, 32, 74];

// ---------------- DRAW ----------------
const panels = [
  { spectra: [L_HI, L_OVI1031, L_OVI1037, L_NV1238, L_NV1242, L_CIV1548, L_CIV1550],
    fits: [L_HI_fit, L_OVI1031_fit, L_OVI1037_fit, L_NV1238_fit, L_NV1242_fit, L_CIV1548_fit, L_CIV1550_fit],
    ticks: [L_HI_ticks, L_OVI_ticks, L_OVI_ticks, L_NV_ticks, L_NV_ticks, L_CIV_ticks, L_CIV_ticks] },
  { spectra: [R_HI, R_OVI1031, R_OVI1037, R_NV1238, R_NV1242, R_CIV1548, R_CIV1550],
    fits: [R_HI_fit, R_OVI1031_fit, R_OVI1037_fit, R_NV1238_fit, R_NV1242_fit, R_CIV1548_fit, R_CIV1550_fit],
    ticks: [R_HI_ticks, R_OVI1031_ticks, R_OVI1037_ticks, R_NV_ticks, R_NV_ticks, R_CIV_ticks, R_CIV_ticks] }
];
const layout = [{left: 32, right: 493}, {left: 538, right: 999}];
const TOP = 6, BOTTOM = 662;
const lineColors = ["#ee2424", "#2323e0", "#2323e0", "#34e6ef", "#34e6ef", "#e03ce0", "#e03ce0"];
const fitColor = "#36dc36";
const tickColor = "#22e2ee";
const axisColor = "#3c3c3c";

const svg = d3.select("#chart");
svg.append("rect").attr("width", 991).attr("height", 736).attr("fill", "#e4ebe8");

const y = d3.scaleLinear().domain([0, 7.5]).range([BOTTOM, TOP]);
const yAll = d3.range(0, 38).map(i => i / 5);
const yMajor = yAll.filter(v => Math.abs(v - Math.round(v)) < 1e-9);
const yMinor = yAll.filter(v => Math.abs(v - Math.round(v)) >= 1e-9);
const defs = svg.append("defs");

layout.forEach((L, pi) => {
  const x = d3.scaleLinear().domain(panelDomains[pi]).range([L.left, L.right]);
  const P = panels[pi];
  const g = svg.append("g");
  defs.append("clipPath").attr("id", "clip" + pi)
    .append("rect").attr("x", L.left).attr("y", TOP).attr("width", L.right - L.left).attr("height", BOTTOM - TOP);
  const plot = g.append("g").attr("clip-path", `url(#clip${pi})`);

  P.spectra.forEach((s, k) => {
    const line = d3.line().x(d => x(d[0])).y(d => y(k + d[1]));
    plot.append("path").datum(s).attr("d", line).attr("fill", "none")
      .attr("stroke", lineColors[k]).attr("stroke-width", k >= 5 ? 1.5 : 1.25).attr("stroke-linejoin", "round");
  });
  P.fits.forEach((s, k) => {
    const line = d3.line().curve(d3.curveMonotoneX).x(d => x(d[0])).y(d => y(k + d[1]));
    plot.append("path").datum(s).attr("d", line).attr("fill", "none")
      .attr("stroke", fitColor).attr("stroke-width", 1.8);
  });
  P.ticks.forEach((t, k) => {
    plot.selectAll(null).data(t).enter().append("line")
      .attr("x1", d => x(d)).attr("x2", d => x(d))
      .attr("y1", y(k + 0.985)).attr("y2", y(k + 0.875))
      .attr("stroke", tickColor).attr("stroke-width", 2.4);
  });

  // frame / axes
  const xMajor = [-200, 200];
  const xMinor = [-300, -100, 100, 300].filter(v => v >= panelDomains[pi][0] && v <= panelDomains[pi][1]);
  const styleAxis = sel => {
    sel.selectAll("path.domain").attr("stroke", axisColor).attr("stroke-width", 1.4);
    sel.selectAll(".tick line").attr("stroke", axisColor).attr("stroke-width", 1.3);
  };
  const mk = (axis, vals, size, tr) => {
    const a = g.append("g").attr("transform", tr)
      .call(axis.tickValues(vals).tickSizeInner(size).tickSizeOuter(0).tickFormat(""));
    styleAxis(a);
    return a;
  };
  mk(d3.axisBottom(x), xMajor, 7, `translate(0,${TOP})`);
  mk(d3.axisBottom(x), xMinor, 4, `translate(0,${TOP})`);
  mk(d3.axisTop(x), xMajor, 7, `translate(0,${BOTTOM})`);
  mk(d3.axisTop(x), xMinor, 4, `translate(0,${BOTTOM})`);
  mk(d3.axisRight(y), yMajor, 6, `translate(${L.left},0)`);
  mk(d3.axisRight(y), yMinor, 3.5, `translate(${L.left},0)`);
  mk(d3.axisLeft(y), yMajor, 6, `translate(${L.right},0)`);
  mk(d3.axisLeft(y), yMinor, 3.5, `translate(${L.right},0)`);
  // zero velocity line with ticks on both sides
  const x0 = x(0);
  [[yMajor, 5.5], [yMinor, 3.5]].forEach(([vals, len]) => {
    [d3.axisLeft(y), d3.axisRight(y)].forEach(ax => {
      const a = g.append("g").attr("transform", `translate(${x0},0)`)
        .call(ax.tickValues(vals).tickSizeInner(len).tickSizeOuter(0).tickFormat(""));
      a.selectAll("path.domain").attr("stroke", "#111").attr("stroke-width", 1.5);
      a.selectAll(".tick line").attr("stroke", "#111").attr("stroke-width", 1.3);
    });
  });

  // y labels (rotated)
  g.selectAll(null).data(yTickLabels).enter().append("text")
    .attr("transform", d => `translate(${L.left - 14},${y(d)}) rotate(-90)`)
    .attr("text-anchor", "middle").attr("dominant-baseline", "central")
    .attr("font-family", "DejaVu Sans, sans-serif").attr("font-size", 15).attr("fill", "#1e1e1e")
    .text(d => d);
  // x labels
  g.selectAll(null).data(xTickLabels).enter().append("text")
    .attr("x", d => x(d)).attr("y", 680)
    .attr("text-anchor", "middle")
    .attr("font-family", "DejaVu Sans, sans-serif").attr("font-size", 14).attr("fill", "#1e1e1e")
    .text(d => d < 0 ? "\u2212" + Math.abs(d) : String(d));

  // line labels
  ionNames.forEach((ion, k) => {
    const by = y(k + 0.5);
    g.append("text").attr("x", L.left + 47).attr("y", by)
      .attr("font-family", "DejaVu Sans, sans-serif").attr("font-size", 13.5).attr("fill", "#1e1e1e")
      .text(ion.replace(" ", "\u2002"));
    const wx = ion === "N V" ? L.left + 101 : L.left + 96.5;
    g.append("text").attr("x", wx).attr("y", by)
      .attr("font-family", "DejaVu Sans, sans-serif").attr("font-size", 13.5).attr("fill", "#1e1e1e")
      .text(wavelengths[k]);
  });

  // axis title
  const t = g.append("text").attr("x", L.left + 219).attr("y", 727)
    .attr("text-anchor", "middle")
    .attr("font-family", "Liberation Sans, Arial, sans-serif").attr("font-size", 31).attr("fill", "#151515");
  t.append("tspan").text("Velocity (km s");
  t.append("tspan").attr("dy", -12).attr("font-size", 19).text("\u22121");
  t.append("tspan").attr("dy", 12).text(")");
});
</script>
</body></html>
